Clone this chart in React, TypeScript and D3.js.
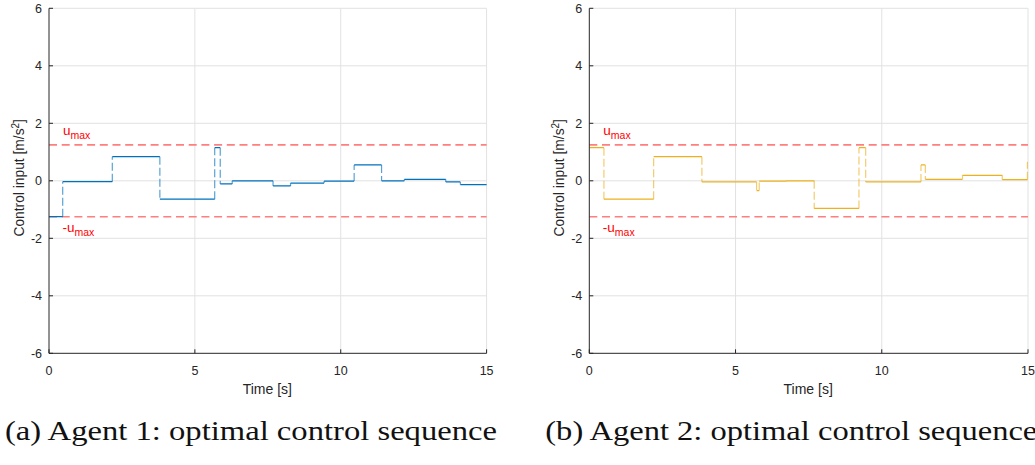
import React from "react";
import * as d3 from "d3";

const timeTicks = [0, 5, 10, 15];
const inputTicks = [-6, -4, -2, 0, 2, 4, 6];
const uMax = 1.25;

const agent1Times = [0, 0.47, 2.17, 3.8, 5.68, 5.87, 6.28, 7.68, 8.28, 9.43, 10.46, 11.4, 12.18, 13.6, 14.1, 15];
const agent1Values = [-1.25, -0.03, 0.84, -0.64, 1.15, -0.11, 0.0, -0.18, -0.08, -0.01, 0.55, 0.0, 0.05, -0.04, -0.13];

const agent2Times = [0, 0.5, 2.2, 3.85, 5.72, 5.81, 6.74, 7.69, 9.22, 9.45, 11.34, 11.49, 12.76, 14.12, 14.98, 15];
const agent2Values = [1.15, -0.64, 0.84, -0.04, -0.34, -0.01, 0.0, -0.96, 1.15, -0.04, 0.55, 0.05, 0.19, 0.04, 0.64];

const captions = ["(a) Agent 1: optimal control sequence", "(b) Agent 2: optimal control sequence"];
const xLabel = "Time [s]";

const AXIS = "#262626";
const GRID = "#e2e2e2";
const SANS = "'Liberation Sans', Arial, Helvetica, sans-serif";

type PanelProps = {
  x0: number;
  x1: number;
  times: number[];
  values: number[];
  color: string;
  caption: string;
};

function Panel({ x0, x1, times, values, color, caption }: PanelProps) {
  const x = d3.scaleLinear().domain([0, 15]).range([x0, x1]);
  const y = d3.scaleLinear().domain([-6, 6]).range([353.3, 8.3]);
  const [yb, yt] = y.range();

  const hPath = values
    .map((v, i) => `M${x(times[i])},${y(v)}H${x(times[i + 1])}`)
    .join("");
  const vPath = values
    .slice(0, -1)
    .map((v, i) => `M${x(times[i + 1])},${y(v)}V${y(values[i + 1])}`)
    .join("");

  return (
    <g>
      {/* grid */}
      {timeTicks.filter((t) => t !== 0).map((t) => (
        <line key={"gx" + t} x1={x(t)} x2={x(t)} y1={yb} y2={yt} stroke={GRID} strokeWidth={1} />
      ))}
      {inputTicks.filter((v) => v !== -6).map((v) => (
        <line key={"gy" + v} x1={x0} x2={x1} y1={y(v)} y2={y(v)} stroke={GRID} strokeWidth={1} />
      ))}
      {/* limits */}
      {[uMax, -uMax].map((u) => (
        <line key={"u" + u} x1={x0} x2={x1} y1={y(u)} y2={y(u)} stroke="#ff7f7f" strokeWidth={1.6} strokeDasharray="8 4.7" />
      ))}
      {/* step series */}
      <path d={vPath} fill="none" stroke={color} strokeWidth={1.2} strokeOpacity={0.65} strokeDasharray="8 3" />
      <path d={hPath} fill="none" stroke={color} strokeWidth={1.25} />
      {/* axes */}
      <line x1={x0} x2={x1} y1={yb} y2={yb} stroke={AXIS} strokeWidth={1} />
      <line x1={x0} x2={x0} y1={yb} y2={yt} stroke={AXIS} strokeWidth={1} />
      {timeTicks.map((t) => (
        <g key={"tx" + t}>
          <line x1={x(t)} x2={x(t)} y1={yb} y2={yb - 4} stroke={AXIS} strokeWidth={1} />
          <text x={x(t)} y={yb + 21.5} textAnchor="middle" fontFamily={SANS} fontSize={12.5} fill={AXIS}>
            {t}
          </text>
        </g>
      ))}
      {inputTicks.map((v) => (
        <g key={"ty" + v}>
          <line x1={x0} x2={x0 + 4} y1={y(v)} y2={y(v)} stroke={AXIS} strokeWidth={1} />
          <text x={x0 - 7} y={y(v)} dy="0.36em" textAnchor="end" fontFamily={SANS} fontSize={12.5} fill={AXIS}>
            {v}
          </text>
        </g>
      ))}
      {/* axis labels */}
      <text x={(x0 + x1) / 2 - 0.5} y={yb + 40.5} textAnchor="middle" fontFamily={SANS} fontSize={14} fill={AXIS}>
        {xLabel}
      </text>
      <text
        transform={`translate(${x0 - 25},${(yb + yt) / 2 - 3}) rotate(-90)`}
        textAnchor="middle"
        fontFamily={SANS}
        fontSize={13.8}
        fill={AXIS}
      >
        Control input [m/s<tspan dy="-5" fontSize={10}>2</tspan>
        <tspan dy="5">]</tspan>
      </text>
      {/* limit labels */}
      <text x={x0 + 14} y={y(uMax) - 10} fontFamily={SANS} fontSize={13.5} fill="#ff0000">
        u<tspan dy="4" fontSize={10.5}>max</tspan>
      </text>
      <text x={x0 + 13.5} y={y(-uMax) + 15} fontFamily={SANS} fontSize={13.5} fill="#ff0000">
        -u<tspan dy="4" fontSize={10.5}>max</tspan>
      </text>
      {/* caption */}
      <text
        x={x0 - 44}
        y={440}
        fontFamily="'Liberation Serif', 'Times New Roman', serif"
        fontSize={28}
        fill="#111"
        textLength={492}
        lengthAdjust="spacingAndGlyphs"
      >
        {caption}
      </text>
    </g>
  );
}

export default function App() {
  return (
    <svg
      width={1035}
      height={465}
      viewBox="0 0 1035 465"
      style={{ position: "absolute", left: 0, top: 0, background: "#fff" }}
    >
      <rect width={1035} height={465} fill="#fff" />
      <Panel x0={49} x1={486.6} times={agent1Times} values={agent1Values} color="#0072BD" caption={captions[0]} />
      <Panel x0={589.3} x1={1028} times={agent2Times} values={agent2Values} color="#EDB120" caption={captions[1]} />
    </svg>
  );
}
